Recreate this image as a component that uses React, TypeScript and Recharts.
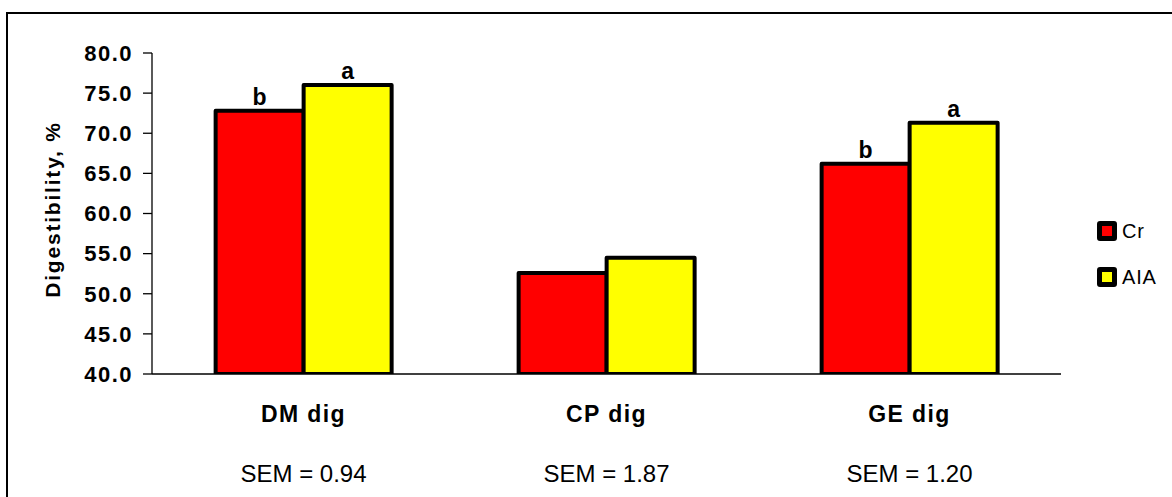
import React from 'react';
import { BarChart, Bar, XAxis, YAxis, Legend, LabelList } from 'recharts';

const categories = ['DM dig', 'CP dig', 'GE dig'];
const crValues = [72.8, 52.6, 66.2];
const aiaValues = [76.0, 54.5, 71.3];
const crLetters = ['b', '', 'b'];
const aiaLetters = ['a', '', 'a'];
const semLabels = ['SEM = 0.94', 'SEM = 1.87', 'SEM = 1.20'];
const yTicks = [40, 45, 50, 55, 60, 65, 70, 75, 80];
const boundaryTicks = [0, 1, 2, 3];
const seriesNames = ['Cr', 'AIA'];
const seriesColors = ['#FF0000', '#FFFF00'];

const data = categories.map((name, i) => ({
  name,
  cr: crValues[i],
  aia: aiaValues[i],
  crL: crLetters[i],
  aiaL: aiaLetters[i],
}));

const FONT = '"Liberation Sans", Arial, sans-serif';

const CatTick = (props: any) => {
  const { x, y, payload } = props;
  const idx = categories.indexOf(payload.value);
  return (
    <g>
      <text x={x} y={y + 47} textAnchor="middle" fontFamily={FONT} fontWeight="bold" fontSize={23} letterSpacing={1.4} fill="#000">
        {payload.value}
      </text>
      <text x={x} y={y + 107} textAnchor="middle" fontFamily={FONT} fontSize={24} fill="#000">
        {semLabels[idx]}
      </text>
    </g>
  );
};

const YLabel = (props: any) => {
  const vb = props.viewBox || { x: 0, y: 0, width: 0, height: 0 };
  const cx = vb.x + 52;
  const cy = vb.y + vb.height / 2 - 4;
  return (
    <text
      x={cx}
      y={cy}
      transform={`rotate(-90 ${cx} ${cy})`}
      textAnchor="middle"
      dominantBaseline="central"
      fontFamily={FONT}
      fontWeight="bold"
      fontSize={21}
      letterSpacing={1.8}
      fill="#000"
    >
      Digestibility, %
    </text>
  );
};

const LegendContent = () => (
  <div style={{ fontFamily: FONT, fontSize: 20, color: '#000', letterSpacing: 0.8 }}>
    {seriesNames.map((n, i) => (
      <div key={n} style={{ display: 'flex', alignItems: 'center', height: 22, marginBottom: i === 0 ? 24 : 0 }}>
        <div
          style={{
            width: 10,
            height: 10,
            border: '5px solid #000',
            borderRadius: 3,
            background: seriesColors[i],
            marginRight: 5,
          }}
        />
        <span>{n}</span>
      </div>
    ))}
  </div>
);

export default function App() {
  return (
    <div style={{ position: 'absolute', left: 0, top: 0, width: 1172, height: 497, overflow: 'hidden', background: '#fff' }}>
      <div
        style={{
          position: 'absolute',
          left: 6,
          top: 12,
          width: 1200,
          height: 520,
          border: '2px solid #000',
          boxSizing: 'border-box',
        }}
      />
      <div style={{ position: 'absolute', left: 0, top: 0 }}>
        <BarChart
          width={1172}
          height={497}
          data={data}
          margin={{ top: 53, right: 111, left: 0, bottom: 121 }}
          barCategoryGap="21%"
          barGap={0}
        >
          <XAxis
            xAxisId="bound"
            type="number"
            domain={[0, 3]}
            ticks={boundaryTicks}
            tick={false}
            tickSize={9}
            height={1}
            axisLine={{ stroke: '#000', strokeWidth: 1.3 }}
            tickLine={{ stroke: '#000', strokeWidth: 1.3 }}
            allowDataOverflow
          />
          <XAxis
            xAxisId="cat"
            dataKey="name"
            height={1}
            axisLine={false}
            tickLine={false}
            tickSize={0}
            tickMargin={0}
            tick={<CatTick />}
            interval={0}
          />
          <YAxis
            domain={[40, 80]}
            ticks={yTicks}
            width={152}
            allowDataOverflow
            tickSize={9}
            tickMargin={10}
            tickFormatter={(v: number) => v.toFixed(1)}
            tick={{ fill: '#000', fontFamily: FONT, fontWeight: 'bold', fontSize: 22, letterSpacing: 1.5 }}
            axisLine={{ stroke: '#000', strokeWidth: 1.3 }}
            tickLine={{ stroke: '#000', strokeWidth: 1.3 }}
            label={(p: any) => <YLabel {...p} />}
          />
          <Legend
            layout="vertical"
            align="center"
            verticalAlign="middle"
            content={<LegendContent />}
            wrapperStyle={{ left: 1097, top: 220, width: 70 }}
          />
          <Bar
            xAxisId="cat"
            dataKey="cr"
            name="Cr"
            fill={seriesColors[0]}
            stroke="#000"
            strokeWidth={4}
            strokeLinejoin="round"
            isAnimationActive={false}
          >
            <LabelList
              dataKey="crL"
              position="top"
              offset={6}
              style={{ fill: '#000', fontFamily: FONT, fontWeight: 'bold', fontSize: 23 }}
            />
          </Bar>
          <Bar
            xAxisId="cat"
            dataKey="aia"
            name="AIA"
            fill={seriesColors[1]}
            stroke="#000"
            strokeWidth={4}
            strokeLinejoin="round"
            isAnimationActive={false}
          >
            <LabelList
              dataKey="aiaL"
              position="top"
              offset={6}
              style={{ fill: '#000', fontFamily: FONT, fontWeight: 'bold', fontSize: 23 }}
            />
          </Bar>
        </BarChart>
      </div>
    </div>
  );
}
